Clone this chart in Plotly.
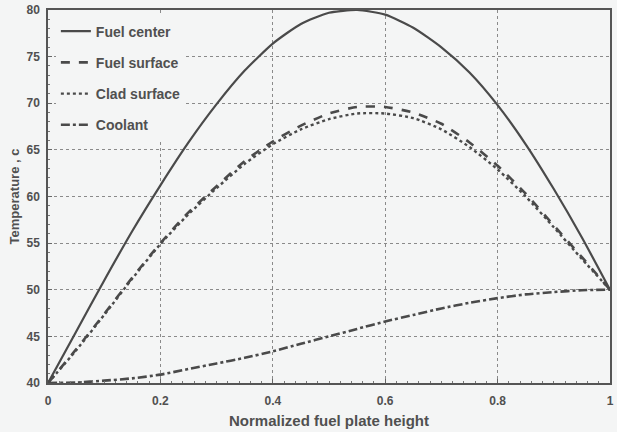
import plotly.graph_objects as go

# Normalized position along the fuel plate
height = [0.0, 0.05, 0.1, 0.15, 0.2, 0.25, 0.3, 0.35, 0.4, 0.45, 0.5,
          0.55, 0.6, 0.65, 0.7, 0.75, 0.8, 0.85, 0.9, 0.95, 1.0]

# Temperatures (C)
fuel_center = [40.0, 45.5, 51.0, 56.3, 61.2, 65.8, 69.9, 73.5, 76.4, 78.5, 79.7,
               80.0, 79.5, 78.1, 76.0, 73.3, 69.8, 65.6, 60.8, 55.6, 50.0]
fuel_surface = [40.0, 43.6, 47.4, 51.3, 55.0, 58.3, 61.1, 63.8, 65.9, 67.6, 68.9,
                69.6, 69.6, 69.0, 67.8, 65.8, 63.3, 60.3, 56.9, 53.5, 50.0]
clad_surface = [40.0, 43.5, 47.3, 51.2, 54.9, 58.1, 60.9, 63.5, 65.6, 67.2, 68.3,
                68.9, 68.9, 68.4, 67.2, 65.3, 62.9, 60.0, 56.7, 53.3, 50.0]
coolant = [40.0, 40.05, 40.25, 40.5, 40.9, 41.5, 42.1, 42.7, 43.4, 44.2, 45.0,
           45.8, 46.6, 47.3, 48.0, 48.6, 49.1, 49.5, 49.75, 49.95, 50.0]

x_ticks = [0, 0.2, 0.4, 0.6, 0.8, 1]
x_ticktext = ["0", "0.2", "0.4", "0.6", "0.8", "1"]
y_ticks = [40, 45, 50, 55, 60, 65, 70, 75, 80]

ink = "#4a4a4a"
text_ink = "#505050"
bg = "#f4f5f5"
font_family = "Liberation Sans, Arial, sans-serif"

series = [
    ("Fuel center", fuel_center, "solid", 2.2),
    ("Fuel surface", fuel_surface, "dash", 2.6),
    ("Clad surface", clad_surface, "dot", 2.4),
    ("Coolant", coolant, "dashdot", 2.6),
]

fig = go.Figure()
for name, values, dash, width in series:
    fig.add_trace(go.Scatter(
        x=height, y=values, mode="lines", name=name,
        legendgroup=name,
        line=dict(color=ink, dash=dash, width=width, shape="spline", smoothing=0.6),
    ))

axis_common = dict(
    showline=True, linecolor="#555555", linewidth=1.5, mirror=True,
    showgrid=True, gridcolor="#8a8a8a", griddash="dot", gridwidth=1,
    zeroline=False,
    ticks="inside", ticklen=4, tickcolor="#666666",
    tickfont=dict(family=font_family, size=12, color=text_ink, weight="bold"),
)

fig.update_xaxes(
    range=[0, 1], tickvals=x_ticks, ticktext=x_ticktext,
    ticklabelstandoff=6,
    minor=dict(dtick=0.02, ticks="inside", ticklen=2, tickcolor="#777777", showgrid=False),
    title=dict(text="Normalized fuel plate height", standoff=8,
               font=dict(family=font_family, size=15, color=text_ink, weight="bold")),
    **axis_common,
)
fig.update_yaxes(
    range=[40, 80], tickvals=y_ticks,
    ticklabelstandoff=4,
    minor=dict(dtick=1, ticks="inside", ticklen=2, tickcolor="#777777", showgrid=False),
    title=dict(text="Temperature , c", standoff=4,
               font=dict(family=font_family, size=13, color=text_ink, weight="bold")),
    **axis_common,
)

fig.update_layout(
    width=617, height=432,
    margin=dict(l=48, r=3, t=10, b=49),
    paper_bgcolor=bg, plot_bgcolor=bg,
    showlegend=True,
    legend=dict(
        x=0.014, y=0.985, xanchor="left", yanchor="top",
        bgcolor=bg, borderwidth=0,
        font=dict(family=font_family, size=14, color=text_ink, weight="bold"),
        traceorder="grouped", tracegroupgap=10,
        itemwidth=30,
    ),
)

fig.write_html("out.html")
